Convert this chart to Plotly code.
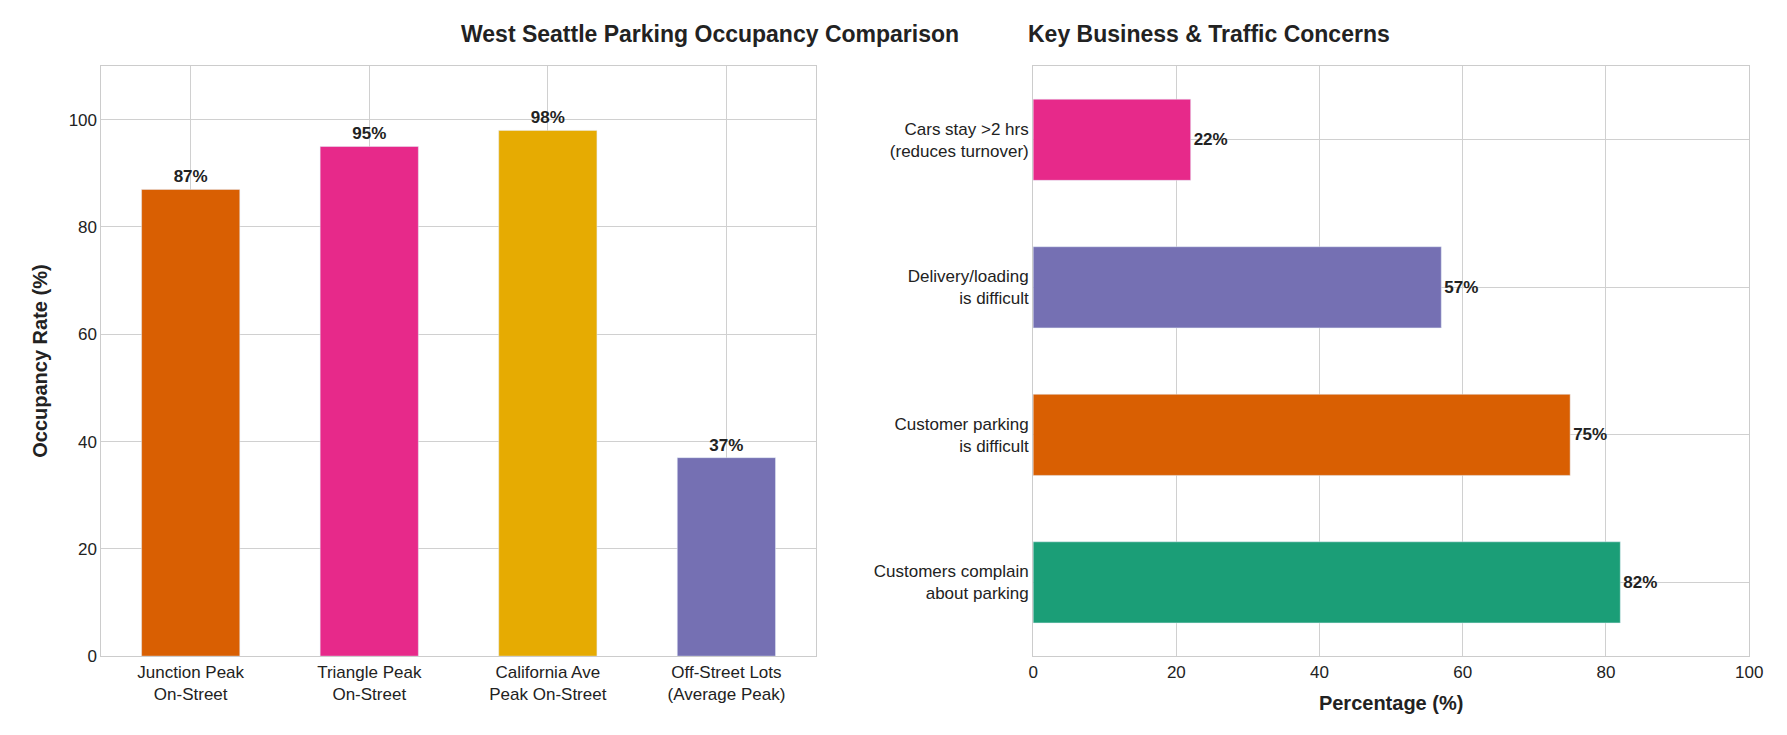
import plotly.graph_objects as go
from plotly.subplots import make_subplots

# left panel: occupancy by area
areas = ["Junction Peak<br>On-Street", "Triangle Peak<br>On-Street",
         "California Ave<br>Peak On-Street", "Off-Street Lots<br>(Average Peak)"]
occupancy = [87, 95, 98, 37]
area_colours = ["#d95f02", "#e7298a", "#e6ab02", "#7570b3"]

# right panel: business concerns (bottom to top)
concerns = ["Customers complain<br>about parking", "Customer parking<br>is difficult",
            "Delivery/loading<br>is difficult", "Cars stay >2 hrs<br>(reduces turnover)"]
concern_pct = [82, 75, 57, 22]
concern_colours = ["#1b9e77", "#d95f02", "#7570b3", "#e7298a"]

fig = make_subplots(rows=1, cols=2)

fig.add_trace(go.Bar(
    x=areas, y=occupancy, width=0.55, marker=dict(color=area_colours),
    text=["<b>%d%%</b>" % v for v in occupancy], textposition="outside",
    textfont=dict(size=17, color="#222"), cliponaxis=False,
), row=1, col=1)

fig.add_trace(go.Bar(
    x=concern_pct, y=concerns, orientation="h", width=0.55,
    marker=dict(color=concern_colours),
    text=["<b>%d%%</b>" % v for v in concern_pct], textposition="outside",
    textfont=dict(size=17, color="#222"), cliponaxis=False,
), row=1, col=2)

axis_style = dict(showline=True, linecolor="#cccccc", mirror=True, gridcolor="#d0d0d0",
                  ticks="", tickfont=dict(size=17, color="#222"), zeroline=False)

fig.update_xaxes(domain=[0.05, 0.454], **axis_style, row=1, col=1)
fig.update_yaxes(range=[0, 110], dtick=20, **axis_style,
                 title=dict(text="<b>Occupancy Rate (%)</b>", font=dict(size=20)), row=1, col=1)
fig.update_xaxes(domain=[0.577, 0.982], range=[0, 100], dtick=20, **axis_style,
                 title=dict(text="<b>Percentage (%)</b>", font=dict(size=20)), row=1, col=2)
fig.update_yaxes(**axis_style, row=1, col=2)
fig.update_yaxes(domain=[0.106, 0.92])

fig.add_annotation(text="<b>West Seattle Parking Occupancy Comparison</b>", xref="paper", yref="paper",
                   x=0.252, y=0.985, showarrow=False, font=dict(size=23, color="#222"), yanchor="top")
fig.add_annotation(text="<b>Key Business &amp; Traffic Concerns</b>", xref="paper", yref="paper",
                   x=0.78, y=0.985, showarrow=False, font=dict(size=23, color="#222"), yanchor="top")

fig.update_layout(
    width=1787, height=735, showlegend=False,
    plot_bgcolor="white", paper_bgcolor="white",
    font=dict(family="Liberation Sans, Arial", color="#222"),
    margin=dict(l=0, r=0, t=0, b=0), bargap=0.45,
)

fig.write_html("out.html")
